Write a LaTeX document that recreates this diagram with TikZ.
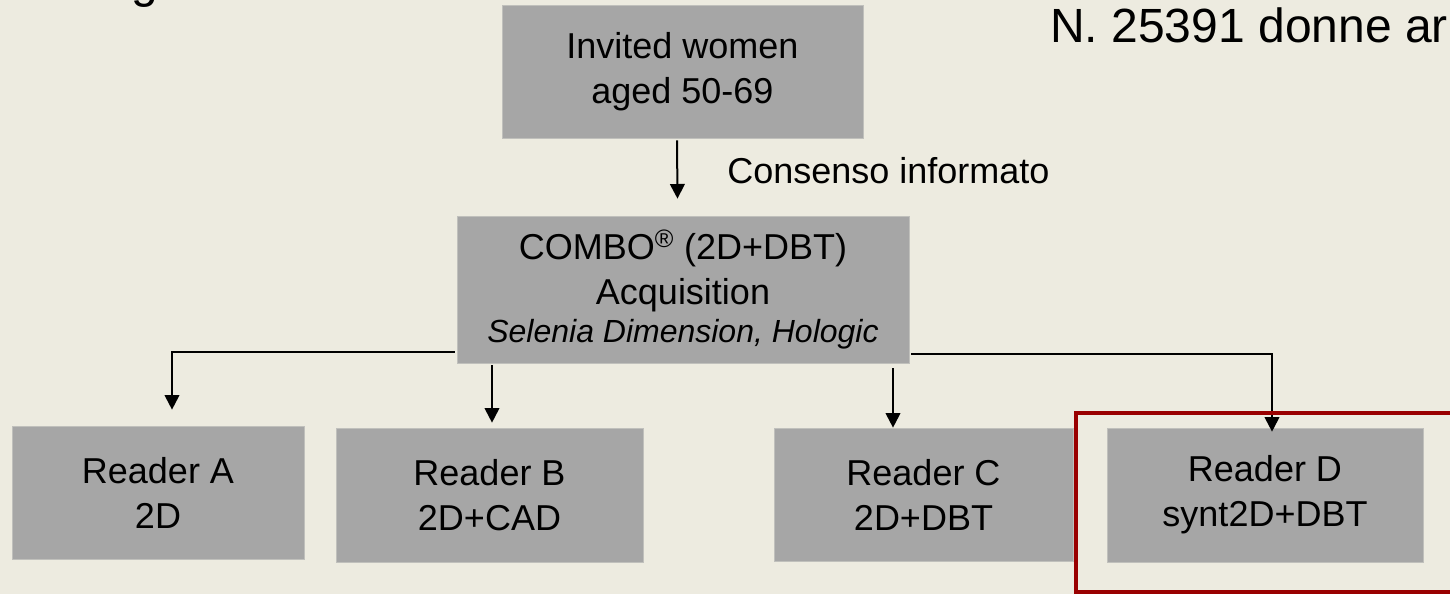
\documentclass[tikz,border=0pt]{standalone}
\usepackage{fontspec}
\setmainfont{Liberation Sans}
\usetikzlibrary{calc,arrows.meta}

\definecolor{slidebg}{RGB}{237,235,224}
\definecolor{boxgrey}{RGB}{166,166,166}
\definecolor{boxedge}{RGB}{192,192,188}
\definecolor{framered}{RGB}{153,0,0}

\tikzset{
  greybox/.style={rectangle, fill=boxgrey, draw=boxedge, line width=0.5pt,
    align=center, inner sep=0pt, font=\fontsize{27}{33.75}\selectfont},
  link/.style={line width=1.5pt, -{Triangle[width=11pt,length=11pt]}},
  slidetext/.style={anchor=base west, inner sep=0pt}
}

\begin{document}
\begin{tikzpicture}[x=0.75pt,y=-0.75pt]
%background of the slide
\fill[slidebg] (0,0) rectangle (1450,594);
\useasboundingbox (0,0) rectangle (1450,594);

% Text Node
\node[slidetext, font=\fontsize{36}{43}\selectfont] (heading) at (131,-3) {g};
% Text Node
\node[slidetext, font=\fontsize{36}{43}\selectfont] (enrolled) at (1050,42) {N. 25391 donne ar};

%Boxes
\node[greybox, minimum width=270.75pt, minimum height=99.75pt] (invited) at (682.5,71.5)
  {Invited women\\aged 50-69};
\node[greybox, minimum width=339pt, minimum height=110.25pt] (combo) at (683,289.5)
  {COMBO\textsuperscript{®} (2D+DBT)\\Acquisition\\[-5.25pt]{\fontsize{24}{33.75}\selectfont\itshape Selenia Dimension, Hologic}};
\node[greybox, minimum width=219pt, minimum height=99.75pt] (readerA) at (158,492.5)
  {Reader A\\2D};
\node[greybox, minimum width=230.25pt, minimum height=100.5pt] (readerB) at (489.5,495)
  {Reader B\\2D+CAD};
\node[greybox, minimum width=224.25pt, minimum height=99.75pt] (readerC) at (923.5,494.5)
  {Reader C\\2D+DBT};
\node[greybox, minimum width=237pt, minimum height=100.5pt] (readerD) at (1265,495)
  {Reader D\\synt2D+DBT};

% Text Node
\node[slidetext, font=\fontsize{27}{33.75}\selectfont] (consent) at (727,183) {Consenso informato};

%Arrows
\draw[link] ($(invited.south)+(-5.5,2)$) -- ($(combo.north)+(-5.5,-17)$);
\draw[link] ($(combo.south west)+(-2,-11)$) -| ($(readerA.north)+(14,-16)$);
\draw[link] ($(combo.south)+(-191,2)$) -- ($(readerB.north)+(2.5,-5)$);
\draw[link] ($(combo.south)+(210,5)$) -- ($(readerC.north)+(-30.5,0)$);
\draw[link] ($(combo.south east)+(2,-9)$) -| ($(readerD.north)+(7,4)$);

%highlight round Reader D
\draw[framered, line width=3pt] (1076,413) rectangle (1470,592);

\end{tikzpicture}
\end{document}
